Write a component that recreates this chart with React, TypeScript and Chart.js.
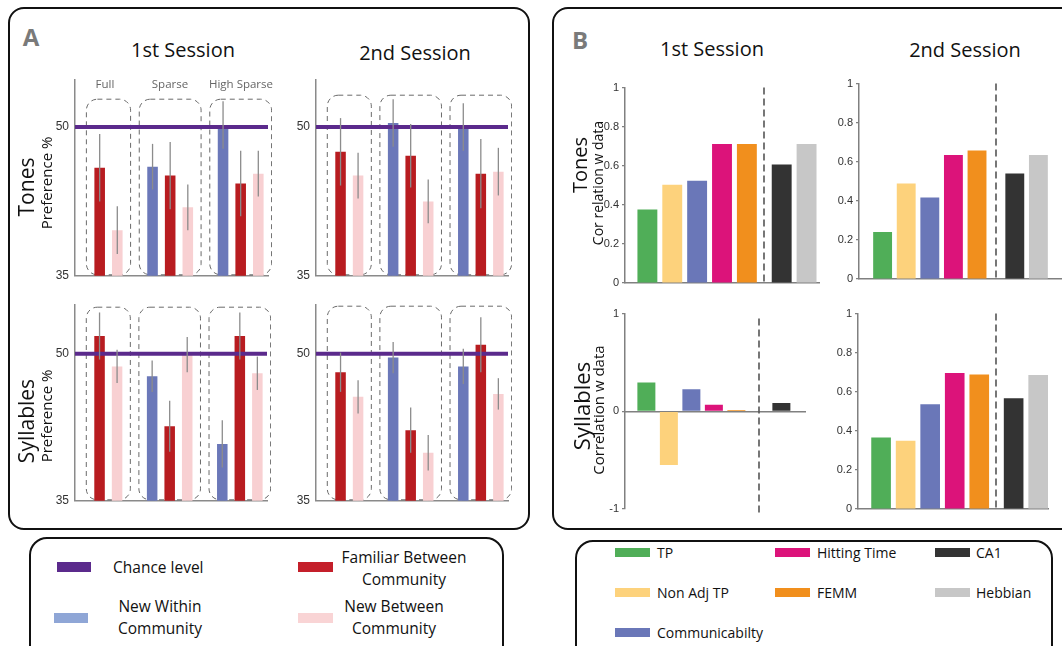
import React, { useEffect, useRef } from "react";
import { Chart, registerables } from "chart.js";
Chart.register(...registerables);

type Num = number | null;

// ---------------- Panel A data (Preference %) ----------------
const prefGroups = ["Full", "Sparse", "High Sparse"];
const prefSeriesNames = ["New Within Community", "Familiar Between Community", "New Between Community"];
const prefTickValues = [35, 50];
const chanceLevel = 50;

// Tones, 1st session
const tones1NewWithin: Num[] = [null, 46.0, 50.2];
const tones1NewWithinErr: Num[] = [null, 2.3, 2.4];
const tones1Familiar: Num[] = [45.9, 45.1, 44.3];
const tones1FamiliarErr: Num[] = [3.4, 3.4, 3.3];
const tones1NewBetween: Num[] = [39.6, 41.9, 45.3];
const tones1NewBetweenErr: Num[] = [2.4, 2.3, 2.3];

// Tones, 2nd session
const tones2NewWithin: Num[] = [null, 50.4, 50.0];
const tones2NewWithinErr: Num[] = [null, 2.4, 2.4];
const tones2Familiar: Num[] = [47.5, 47.1, 45.3];
const tones2FamiliarErr: Num[] = [3.4, 3.2, 3.5];
const tones2NewBetween: Num[] = [45.1, 42.5, 45.5];
const tones2NewBetweenErr: Num[] = [2.3, 2.2, 2.4];

// Syllables, 1st session
const syl1NewWithin: Num[] = [null, 47.7, 40.8];
const syl1NewWithinErr: Num[] = [null, 1.6, 2.4];
const syl1Familiar: Num[] = [51.8, 42.6, 51.8];
const syl1FamiliarErr: Num[] = [2.4, 2.6, 2.4];
const syl1NewBetween: Num[] = [48.7, 49.9, 48.0];
const syl1NewBetweenErr: Num[] = [1.7, 1.8, 1.7];

// Syllables, 2nd session
const syl2NewWithin: Num[] = [null, 49.6, 48.7];
const syl2NewWithinErr: Num[] = [null, 1.6, 1.8];
const syl2Familiar: Num[] = [48.1, 42.2, 50.9];
const syl2FamiliarErr: Num[] = [2.0, 2.3, 2.8];
const syl2NewBetween: Num[] = [45.6, 39.9, 45.9];
const syl2NewBetweenErr: Num[] = [1.7, 1.8, 1.6];

// ---------------- Panel B data (Correlation w data) ----------------
const graphModels = ["TP", "Non Adj TP", "Communicabilty", "Hitting Time", "FEMM"];
const neuralModels = ["CA1", "Hebbian"];
const tones1Corr = [0.376, 0.503, 0.523, 0.712, 0.712, 0.607, 0.712];
const tones2Corr = [0.241, 0.489, 0.417, 0.634, 0.658, 0.54, 0.634];
const syl1Corr = [0.296, -0.549, 0.226, 0.067, 0.013, 0.084, 0.0];
const syl2Corr = [0.366, 0.349, 0.536, 0.696, 0.688, 0.567, 0.686];
const corrTicksPos = [0, 0.2, 0.4, 0.6, 0.8, 1];
const corrTicksSigned = [-1, 0, 1];

// ---------------- styles ----------------
const PREF_COLORS = ["#6b78b9", "#b81c20", "#f8d0d2"];
const MODEL_COLORS = ["#50ae58", "#fdd27c", "#6a77b8", "#dc137a", "#f18f1d", "#333333", "#c7c7c7"];
const CHANCE_COLOR = "#5b2a8c";
const FONT = "'Open Sans', 'Noto Sans', sans-serif";
const TICK_FONT = "'Liberation Sans', Arial, sans-serif";

type Box = { left: number; top: number; width: number; height: number };

function place(plotLeft: number, plotTop: number, plotW: number, plotH: number, axisW: number, pad: { t: number; r: number; b: number }) {
  return {
    box: { left: plotLeft - axisW, top: plotTop - pad.t, width: axisW + plotW + pad.r, height: pad.t + plotH + pad.b },
    padding: { left: 0, top: pad.t, right: pad.r, bottom: pad.b },
    axisW,
  };
}

const prefDecor = {
  id: "prefDecor",
  beforeDatasetsDraw(chart: any) {
    const ds = chart.data.datasets[0];
    const meta = chart.getDatasetMeta(0);
    const { ctx, chartArea } = chart;
    ctx.save();
    ctx.setLineDash([5, 4]);
    ctx.strokeStyle = "#6a6a6a";
    ctx.lineWidth = 1;
    prefGroups.forEach((_, g) => {
      let l = Infinity, r = -Infinity;
      meta.data.forEach((el: any, i: number) => {
        if (ds.groupOf[i] !== g) return;
        l = Math.min(l, el.x - el.width / 2);
        r = Math.max(r, el.x + el.width / 2);
      });
      if (!isFinite(l)) return;
      const x0 = l - 8, x1 = r + 8;
      const y0 = chartArea.top + ds.boxTop, y1 = chartArea.bottom - 1;
      ctx.beginPath();
      (ctx as any).roundRect(x0, y0, x1 - x0, y1 - y0, 11);
      ctx.stroke();
    });
    ctx.restore();
  },
  afterDatasetsDraw(chart: any) {
    const ds = chart.data.datasets[0];
    const meta = chart.getDatasetMeta(0);
    const { ctx, chartArea, scales } = chart;
    const y = scales.y;
    ctx.save();
    const yc = y.getPixelForValue(chanceLevel);
    ctx.strokeStyle = CHANCE_COLOR;
    ctx.lineWidth = 4;
    ctx.beginPath();
    ctx.moveTo(chartArea.left, yc);
    ctx.lineTo(chartArea.right, yc);
    ctx.stroke();
    ctx.strokeStyle = "#8c8c8c";
    ctx.lineWidth = 1.3;
    meta.data.forEach((el: any, i: number) => {
      const v = ds.data[i].y, e = ds.errors[i];
      if (e == null) return;
      ctx.beginPath();
      ctx.moveTo(el.x, y.getPixelForValue(v - e));
      ctx.lineTo(el.x, y.getPixelForValue(v + e));
      ctx.stroke();
    });
    ctx.restore();
  },
};

const corrDecor = {
  id: "corrDecor",
  afterDatasetsDraw(chart: any) {
    const ds = chart.data.datasets[0];
    const meta = chart.getDatasetMeta(0);
    const { ctx, chartArea } = chart;
    const a = meta.data[graphModels.length - 1], b = meta.data[graphModels.length];
    const x = Math.round((a.x + b.x) / 2);
    ctx.save();
    ctx.setLineDash([7, 4]);
    ctx.strokeStyle = "#555";
    ctx.lineWidth = 1.6;
    ctx.beginPath();
    ctx.moveTo(x, chartArea.top + ds.dashTop);
    ctx.lineTo(x, chartArea.bottom + ds.dashBottom);
    ctx.stroke();
    ctx.restore();
  },
};

function prefConfig(series: Num[][], errs: Num[][], yMax: number, boxTop: number, layout: any) {
  const pts: { x: number; y: number }[] = [];
  const colors: string[] = [];
  const errors: Num[] = [];
  const groupOf: number[] = [];
  const stride = prefSeriesNames.length + 1;
  series.forEach((arr, s) =>
    arr.forEach((v, g) => {
      if (v == null) return;
      pts.push({ x: g * stride + s, y: v });
      colors.push(PREF_COLORS[s]);
      errors.push(errs[s][g]);
      groupOf.push(g);
    })
  );
  const xs = pts.map((p) => p.x);
  return {
    type: "bar",
    data: {
      datasets: [
        {
          data: pts,
          backgroundColor: colors,
          barPercentage: 0.6,
          categoryPercentage: 1,
          grouped: false,
          errors,
          groupOf,
          boxTop,
        },
      ],
    },
    options: {
      animation: false,
      responsive: false,
      events: [],
      layout: { padding: layout.padding },
      plugins: { legend: { display: false }, tooltip: { enabled: false } },
      scales: {
        x: {
          type: "linear",
          offset: false,
          min: -0.4,
          max: prefGroups.length * stride - 1.45,
          ticks: { display: false },
          grid: { display: false, drawTicks: false },
          border: { display: true, color: "#8a8a8a", width: 1.5 },
          afterBuildTicks: (s: any) => { s.ticks = xs.map((v) => ({ value: v })); },
          afterFit: (s: any) => { s.height = 0; },
        },
        y: {
          min: 35,
          max: yMax,
          afterBuildTicks: (s: any) => { s.ticks = prefTickValues.map((v) => ({ value: v })); },
          afterFit: (s: any) => { s.width = layout.axisW; },
          ticks: { color: "#333", font: { family: TICK_FONT, size: 12 }, padding: 6, callback: (v: number) => String(v) },
          grid: { display: false, drawTicks: false },
          border: { display: true, color: "#8a8a8a", width: 1.5 },
        },
      },
    },
    plugins: [prefDecor],
  };
}

function corrConfig(values: number[], o: any, layout: any) {
  const models = [...graphModels, ...neuralModels];
  const xs = models.map((_, i) => (i < graphModels.length ? i : i + o.gap - 1));
  return {
    type: "bar",
    data: {
      datasets: [
        {
          data: values.map((v, i) => ({ x: xs[i], y: v })),
          backgroundColor: MODEL_COLORS,
          barPercentage: 0.8,
          categoryPercentage: 1,
          grouped: false,
          dashTop: o.dashTop,
          dashBottom: o.dashBottom,
        },
      ],
    },
    options: {
      animation: false,
      responsive: false,
      events: [],
      layout: { padding: layout.padding },
      plugins: { legend: { display: false }, tooltip: { enabled: false } },
      scales: {
        x: {
          type: "linear",
          offset: false,
          min: o.xMin,
          max: o.xMax,
          position: o.yMin < 0 ? { y: 0 } : "bottom",
          ticks: { display: false },
          grid: { display: false, drawTicks: false },
          border: { display: true, color: "#808080", width: 1.5 },
          afterBuildTicks: (s: any) => { s.ticks = xs.map((v) => ({ value: v })); },
          afterFit: (s: any) => { s.height = 0; },
        },
        y: {
          min: o.yMin,
          max: o.yMax,
          afterBuildTicks: (s: any) => { s.ticks = o.ticks.map((v: number) => ({ value: v })); },
          afterFit: (s: any) => { s.width = layout.axisW; },
          ticks: { color: "#333", font: { family: TICK_FONT, size: 11 }, padding: 3, callback: (v: number) => String(Math.round(v * 10) / 10) },
          grid: { display: true, drawOnChartArea: false, drawTicks: true, tickLength: 3, color: "#808080", lineWidth: 1.2 },
          border: { display: true, color: "#808080", width: 1.5 },
        },
      },
    },
    plugins: [corrDecor],
  };
}

function ChartCanvas({ box, make }: { box: Box; make: () => any }) {
  const ref = useRef<HTMLCanvasElement>(null);
  useEffect(() => {
    const chart = new Chart(ref.current as HTMLCanvasElement, make());
    return () => chart.destroy();
  }, []);
  return (
    <canvas
      ref={ref}
      width={box.width}
      height={box.height}
      style={{ position: "absolute", left: box.left, top: box.top, width: box.width, height: box.height }}
    />
  );
}

function Txt(props: { x: number; y: number; size: number; rotate?: boolean; left?: boolean; color?: string; weight?: number; lh?: number; children: any }) {
  const { x, y, size, rotate, left, color, weight, lh, children } = props;
  const transform = rotate ? "translate(-50%,-50%) rotate(-90deg)" : left ? "translate(0,-50%)" : "translate(-50%,-50%)";
  return (
    <div
      style={{
        position: "absolute",
        left: x,
        top: y,
        transform,
        fontSize: size,
        fontFamily: FONT,
        color: color || "#111",
        fontWeight: weight || 400,
        whiteSpace: "nowrap",
        lineHeight: lh ? `${lh}px` : 1.2,
        textAlign: "center",
      }}
    >
      {children}
    </div>
  );
}

function Frame({ l, t, w, h, r }: { l: number; t: number; w: number; h: number; r: number }) {
  return (
    <div
      style={{
        position: "absolute",
        left: l,
        top: t,
        width: w,
        height: h,
        border: "2px solid #111",
        borderRadius: r,
        boxSizing: "border-box",
      }}
    />
  );
}

function Swatch({ x, y, color, w = 35, h = 9 }: { x: number; y: number; color: string; w?: number; h?: number }) {
  return <div style={{ position: "absolute", left: x, top: y, width: w, height: h, background: color }} />;
}

export default function App() {
  const padA = { t: 6, r: 4, b: 6 };
  const padB = { t: 8, r: 4, b: 10 };
  const lT1 = place(75, 73, 193, 210, 40, padA);
  const lT2 = place(316, 73, 192, 210, 40, padA);
  const lS1 = place(75, 298, 192, 210, 40, padA);
  const lS2 = place(316, 298, 192, 210, 40, padA);

  const bT1 = place(625, 86, 194, 197, 36, padB);
  const bT2 = place(859, 82, 203, 197, 36, padB);
  const bS1 = place(625, 312, 180, 197, 36, padB);
  const bS2 = place(858, 312, 190, 197, 36, padB);

  return (
    <div style={{ position: "absolute", left: 0, top: 0, width: 1062, height: 646, overflow: "hidden", background: "#fff" }}>
      <Frame l={8} t={7} w={522} h={523} r={16} />
      <Frame l={552} t={7} w={540} h={523} r={16} />
      <Frame l={29} t={537} w={475} h={130} r={18} />
      <Frame l={575} t={540} w={478} h={130} r={18} />

      <ChartCanvas
        box={lT1.box}
        make={() => prefConfig([tones1NewWithin, tones1Familiar, tones1NewBetween], [tones1NewWithinErr, tones1FamiliarErr, tones1NewBetweenErr], 54.72, 19, lT1)}
      />
      <ChartCanvas
        box={lT2.box}
        make={() => prefConfig([tones2NewWithin, tones2Familiar, tones2NewBetween], [tones2NewWithinErr, tones2FamiliarErr, tones2NewBetweenErr], 54.72, 15, lT2)}
      />
      <ChartCanvas
        box={lS1.box}
        make={() => prefConfig([syl1NewWithin, syl1Familiar, syl1NewBetween], [syl1NewWithinErr, syl1FamiliarErr, syl1NewBetweenErr], 54.94, 2, lS1)}
      />
      <ChartCanvas
        box={lS2.box}
        make={() => prefConfig([syl2NewWithin, syl2Familiar, syl2NewBetween], [syl2NewWithinErr, syl2FamiliarErr, syl2NewBetweenErr], 54.94, 1, lS2)}
      />

      <ChartCanvas
        box={bT1.box}
        make={() => corrConfig(tones1Corr, { xMin: -0.9, xMax: 6.9, gap: 1.4, yMin: 0, yMax: 1, ticks: corrTicksPos, dashTop: 0, dashBottom: 0 }, bT1)}
      />
      <ChartCanvas
        box={bT2.box}
        make={() => corrConfig(tones2Corr, { xMin: -1.0, xMax: 7.6, gap: 1.6, yMin: 0, yMax: 1, ticks: corrTicksPos, dashTop: 0, dashBottom: 0 }, bT2)}
      />
      <ChartCanvas
        box={bS1.box}
        make={() => corrConfig(syl1Corr, { xMin: -0.95, xMax: 7.05, gap: 2.0, yMin: -1, yMax: 1, ticks: corrTicksSigned, dashTop: 5, dashBottom: 6 }, bS1)}
      />
      <ChartCanvas
        box={bS2.box}
        make={() => corrConfig(syl2Corr, { xMin: -0.94, xMax: 6.8, gap: 1.4, yMin: 0, yMax: 1, ticks: corrTicksPos, dashTop: 0, dashBottom: 0 }, bS2)}
      />

      {/* Panel A texts */}
      <Txt x={31} y={37} size={24} weight={700} color="#7a7a7a">A</Txt>
      <Txt x={183} y={50} size={20}>1st Session</Txt>
      <Txt x={415} y={53} size={20}>2nd Session</Txt>
      <Txt x={105} y={84} size={11.5} color="#666">{prefGroups[0]}</Txt>
      <Txt x={170} y={84} size={11.5} color="#666">{prefGroups[1]}</Txt>
      <Txt x={241} y={84} size={11.5} color="#666">{prefGroups[2]}</Txt>
      <Txt x={27} y={187} size={21} rotate>Tones</Txt>
      <Txt x={46} y={183} size={15} rotate>Preference %</Txt>
      <Txt x={27} y={421} size={21} rotate>Syllables</Txt>
      <Txt x={46} y={416} size={15} rotate>Preference %</Txt>

      {/* Panel B texts */}
      <Txt x={580} y={40} size={24} weight={700} color="#7a7a7a">B</Txt>
      <Txt x={712} y={49} size={20}>1st Session</Txt>
      <Txt x={965} y={50} size={20}>2nd Session</Txt>
      <Txt x={580} y={165} size={20} rotate>Tones</Txt>
      <Txt x={598} y={183} size={14} rotate>Cor relation w data</Txt>
      <Txt x={581} y={406} size={22} rotate>Syllables</Txt>
      <Txt x={598} y={410} size={15} rotate>Correlation w data</Txt>

      {/* Legend A */}
      <Swatch x={57} y={562} color={CHANCE_COLOR} w={34} h={10} />
      <Txt x={113} y={567} size={15.5} left>Chance level</Txt>
      <Swatch x={298} y={562} color="#c41f2a" w={35} h={10} />
      <Txt x={404} y={568} size={15.5} lh={22}>Familiar Between<br />Community</Txt>
      <Swatch x={54} y={613} color="#8fa6d6" w={34} h={10} />
      <Txt x={160} y={617} size={15.5} lh={22}>New Within<br />Community</Txt>
      <Swatch x={298} y={613} color="#f9d4d5" w={35} h={10} />
      <Txt x={394} y={617} size={15.5} lh={22}>New Between<br />Community</Txt>

      {/* Legend B */}
      <Swatch x={615} y={548} color={MODEL_COLORS[0]} />
      <Txt x={657} y={553} size={14} left>{graphModels[0]}</Txt>
      <Swatch x={615} y={588} color={MODEL_COLORS[1]} />
      <Txt x={657} y={593} size={14} left>{graphModels[1]}</Txt>
      <Swatch x={615} y={628} color={MODEL_COLORS[2]} />
      <Txt x={657} y={633} size={14} left>{graphModels[2]}</Txt>
      <Swatch x={775} y={548} color={MODEL_COLORS[3]} />
      <Txt x={817} y={553} size={14} left>{graphModels[3]}</Txt>
      <Swatch x={775} y={588} color={MODEL_COLORS[4]} />
      <Txt x={817} y={593} size={14} left>{graphModels[4]}</Txt>
      <Swatch x={935} y={548} color={MODEL_COLORS[5]} />
      <Txt x={976} y={553} size={14} left>{neuralModels[0]}</Txt>
      <Swatch x={935} y={588} color={MODEL_COLORS[6]} />
      <Txt x={976} y={593} size={14} left>{neuralModels[1]}</Txt>
    </div>
  );
}
